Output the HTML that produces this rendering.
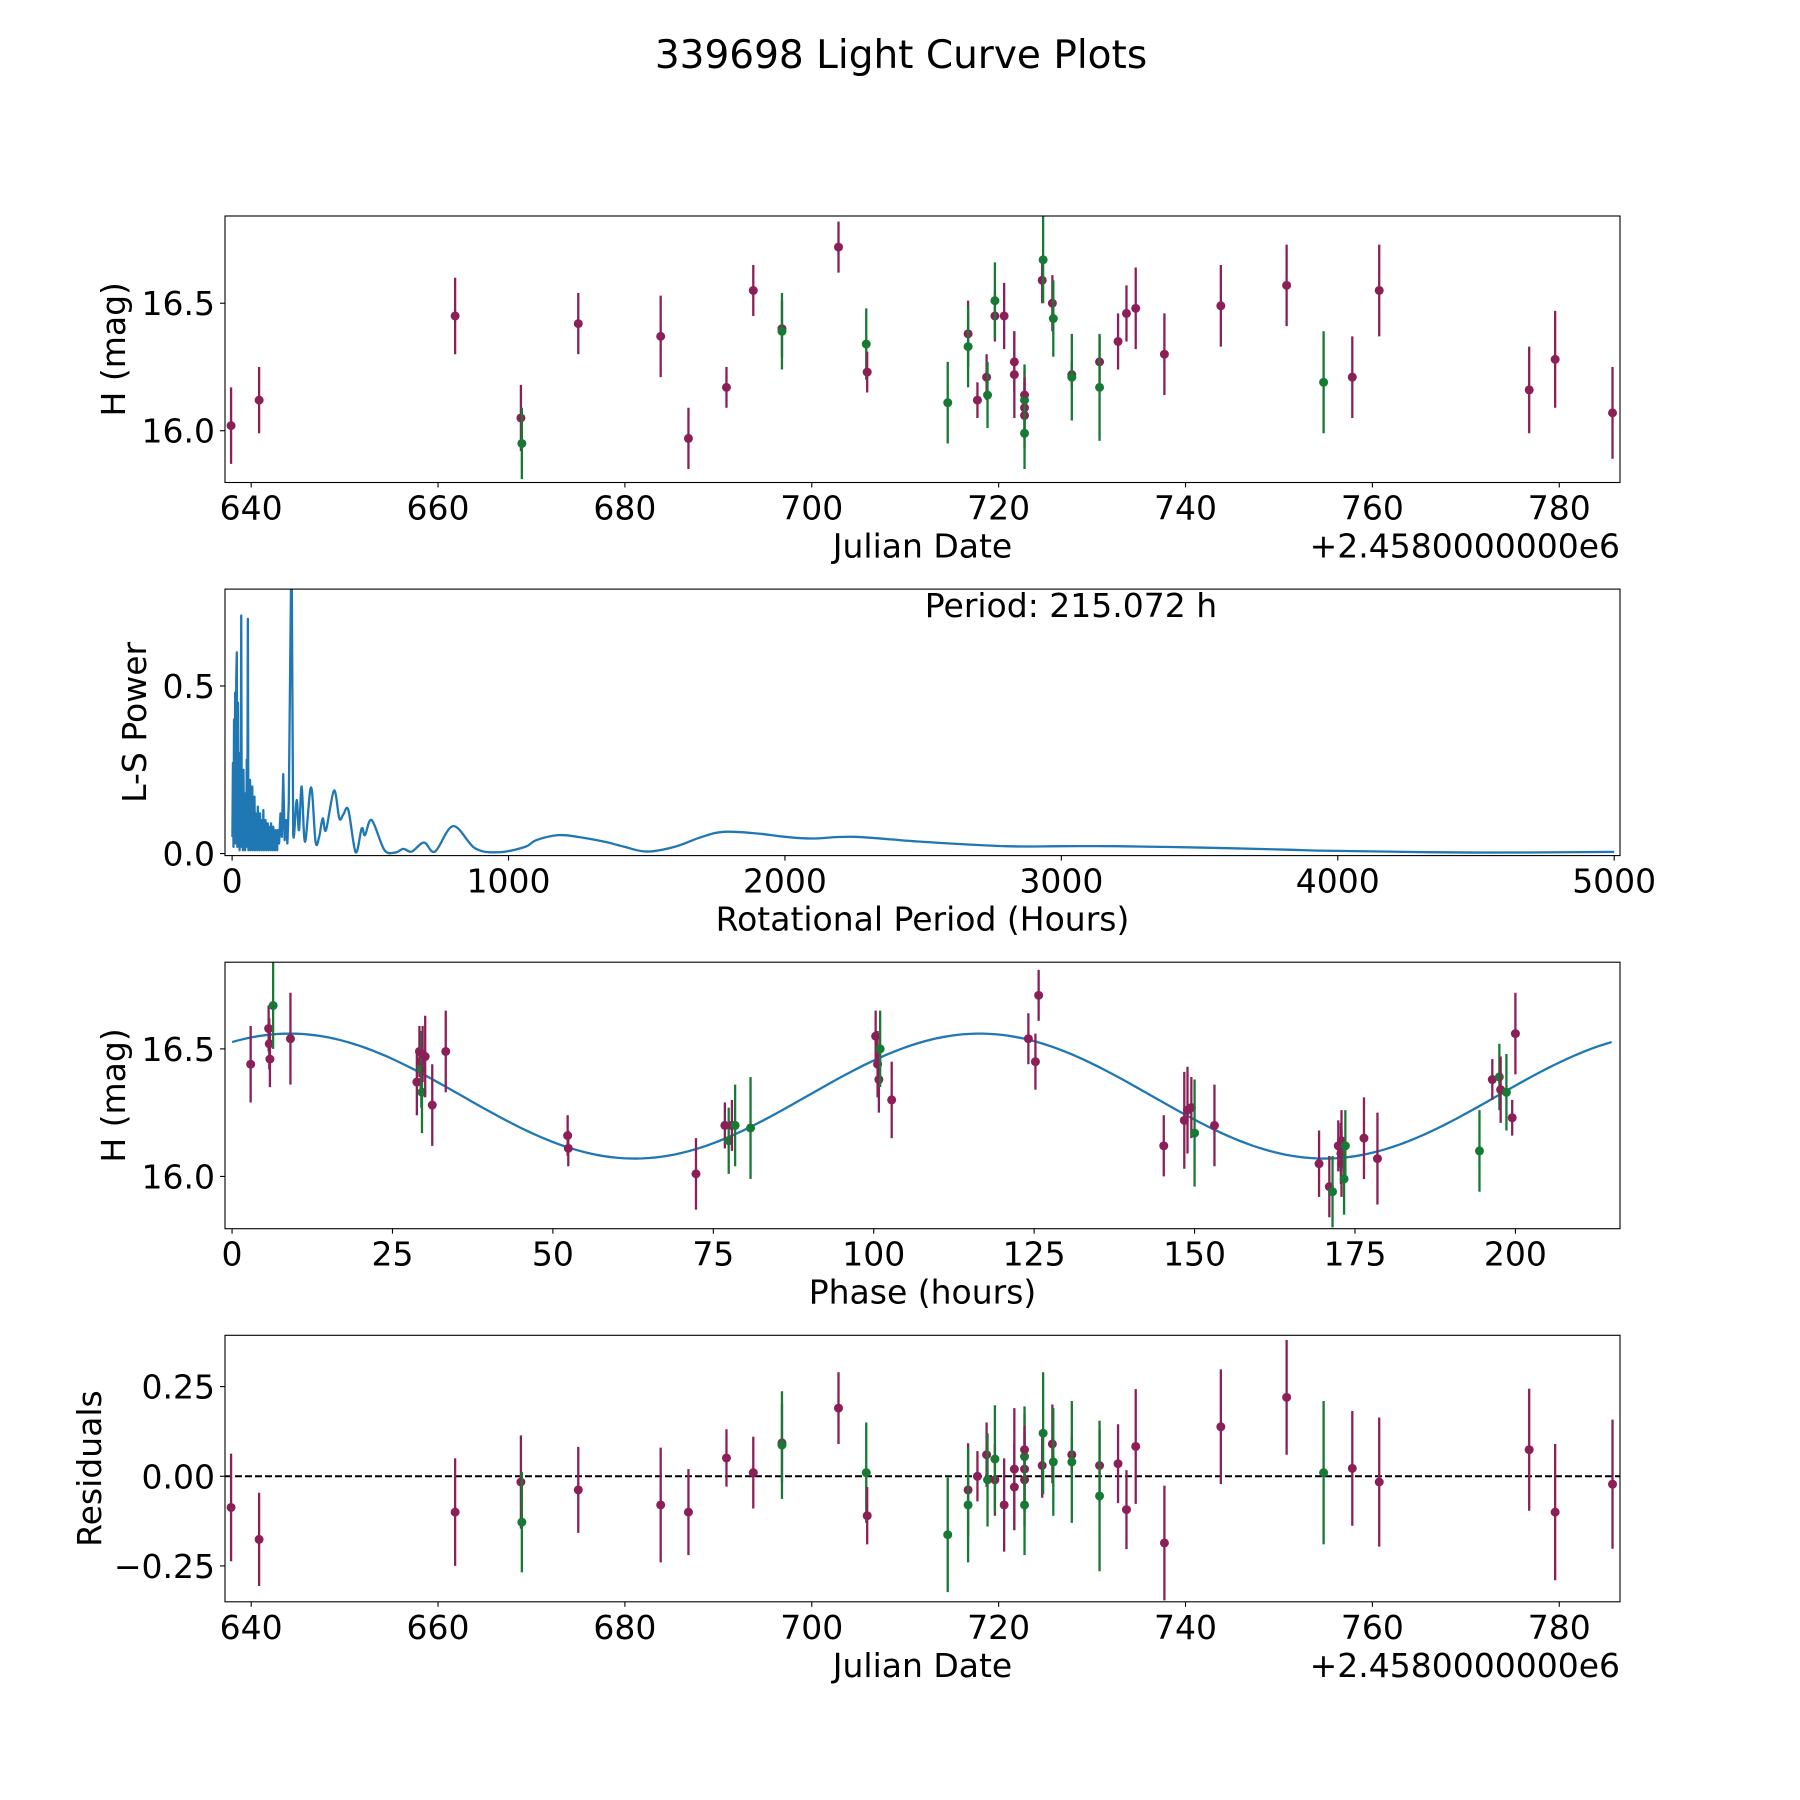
<!DOCTYPE html>
<html><head><meta charset="utf-8"><title>339698 Light Curve Plots</title>
<style>
html,body{margin:0;padding:0;background:#fff;}
svg{display:block;font-family:"DejaVu Sans","Liberation Sans",sans-serif;}
</style></head>
<body>
<svg id="fig" width="1800" height="1800" viewBox="0 0 1800 1800" xmlns="http://www.w3.org/2000/svg">
<rect width="1800" height="1800" fill="#fff"/>
<text x="901" y="68" font-size="39" text-anchor="middle">339698 Light Curve Plots</text>
</svg>
<script>
// ---- Panel 1 & 4 data: Julian date (offset), magnitude, error, filter colour ----
const obsDate = [637.85,640.85,661.83,668.87,668.97,675.01,683.83,686.80,690.87,693.74,696.81,696.81,702.86,705.83,705.93,714.55,716.73,716.73,717.73,718.71,718.81,719.60,719.60,720.59,721.68,721.68,722.77,722.77,722.77,722.77,722.77,724.66,724.76,725.75,725.85,727.83,727.83,730.80,730.80,732.78,733.68,734.67,737.74,743.78,750.82,754.78,757.85,760.73,776.78,779.56,785.70];
const obsMag = [16.02,16.12,16.45,16.05,15.95,16.42,16.37,15.97,16.17,16.55,16.40,16.39,16.72,16.34,16.23,16.11,16.38,16.33,16.12,16.21,16.14,16.45,16.51,16.45,16.27,16.22,16.14,16.12,16.09,16.06,15.99,16.59,16.67,16.50,16.44,16.22,16.21,16.27,16.17,16.35,16.46,16.48,16.30,16.49,16.57,16.19,16.21,16.55,16.16,16.28,16.07];
const obsErr = [0.15,0.13,0.15,0.13,0.14,0.12,0.16,0.12,0.08,0.10,0.11,0.15,0.10,0.14,0.08,0.16,0.13,0.16,0.07,0.09,0.13,0.10,0.15,0.13,0.12,0.17,0.10,0.14,0.12,0.13,0.14,0.09,0.17,0.11,0.15,0.05,0.17,0.10,0.21,0.11,0.11,0.16,0.16,0.16,0.16,0.20,0.16,0.18,0.17,0.19,0.18];
const obsFilter = ["p","p","p","p","g","p","p","p","p","p","p","g","p","g","p","g","p","g","p","p","g","p","g","p","p","p","p","g","p","p","g","p","g","p","g","p","g","p","g","p","p","p","p","p","p","g","p","p","p","p","p"];
const obsResid = [-0.087,-0.176,-0.10,-0.016,-0.128,-0.038,-0.08,-0.10,0.051,0.01,0.093,0.087,0.19,0.01,-0.11,-0.163,-0.038,-0.08,0.0,0.06,-0.01,-0.01,0.048,-0.08,-0.03,0.02,0.074,0.055,0.02,-0.01,-0.08,0.03,0.12,0.09,0.04,0.06,0.04,0.03,-0.055,0.035,-0.093,0.083,-0.186,0.138,0.22,0.01,0.022,-0.016,0.074,-0.10,-0.022];
// ---- Panel 2: Lomb-Scargle periodogram ----
const lsPeriod = [1,3,5,7,9,11,13,15,17,19,21,23,25,27,29,31,33,35,37,39,41,43,45,47,49,51,53,55,57,59,61,63,65,67,69,71,73,75,77,79,81,83,85,87,89,91,93,95,97,99,101,103,105,107,109,111,113,115,117,119,121,123,125,127,129,131,133,135,137,139,141,143,145,147,149,151,153,155,157,159,161,163,165,170,175,180,185,190,195,200,205,210,215,218,221,233.6,242,251.7,263.7,285.5,302,315,327.7,339.7,368.7,388,402.5,420.5,447,468.8,480.8,505,550.8,590,619.5,649.7,694.3,734,800,878.8,963,1060,1100,1180,1250,1350,1420,1500,1600,1700,1780,1900,2000,2100,2250,2500,2800,3000,3200,3500,3800,4000,4500,5000];
const lsPower = [0.05,0.27,0.02,0.40,0.05,0.48,0.03,0.52,0.60,0.02,0.45,0.08,0.30,0.01,0.22,0.05,0.71,0.02,0.15,0.01,0.25,0.03,0.18,0.01,0.12,0.02,0.28,0.05,0.70,0.01,0.16,0.02,0.22,0.01,0.13,0.03,0.20,0.01,0.10,0.04,0.17,0.01,0.12,0.02,0.11,0.01,0.14,0.03,0.08,0.01,0.12,0.02,0.09,0.01,0.10,0.02,0.13,0.01,0.08,0.03,0.10,0.01,0.06,0.02,0.09,0.01,0.08,0.02,0.07,0.01,0.09,0.03,0.06,0.01,0.08,0.02,0.05,0.01,0.07,0.02,0.05,0.01,0.07,0.03,0.12,0.05,0.237,0.04,0.10,0.03,0.15,0.55,0.95,0.5,0.06,0.16,0.07,0.20,0.035,0.198,0.035,0.05,0.105,0.07,0.188,0.105,0.117,0.13,0.004,0.075,0.055,0.10,0.011,0.003,0.014,0.006,0.033,0.006,0.082,0.016,0.004,0.02,0.04,0.055,0.05,0.035,0.02,0.006,0.02,0.05,0.065,0.06,0.05,0.045,0.05,0.035,0.022,0.022,0.022,0.018,0.012,0.008,0.003,0.005];
const periodLabel = "Period: 215.072 h";
// ---- Panel 3: phased data ----
const phaseHours = [2.9,5.7,5.9,5.8,6.4,9.1,28.8,29.2,29.4,29.5,29.6,29.7,30.1,31.2,33.3,52.3,52.4,72.3,76.8,77.4,77.9,78.4,80.8,100.3,100.6,100.8,101.0,102.8,124.1,125.2,125.7,145.2,148.4,148.9,149.5,150.0,153.1,169.4,171.0,171.5,172.4,172.8,172.9,172.9,173.3,173.5,176.4,178.5,194.4,196.4,197.5,197.7,198.6,199.5,200.0];
const phaseMag = [16.44,16.58,16.46,16.52,16.67,16.54,16.37,16.49,16.45,16.42,16.33,16.48,16.47,16.28,16.49,16.16,16.11,16.01,16.20,16.14,16.20,16.20,16.19,16.55,16.44,16.38,16.50,16.30,16.54,16.45,16.71,16.12,16.22,16.26,16.27,16.17,16.20,16.05,15.96,15.94,16.12,16.09,16.14,16.05,15.99,16.12,16.15,16.07,16.10,16.38,16.39,16.34,16.33,16.23,16.56];
const phaseErr = [0.15,0.09,0.11,0.10,0.17,0.18,0.13,0.10,0.11,0.15,0.16,0.11,0.16,0.16,0.16,0.08,0.07,0.14,0.09,0.13,0.10,0.16,0.20,0.10,0.13,0.13,0.15,0.15,0.10,0.11,0.10,0.12,0.19,0.17,0.12,0.21,0.16,0.13,0.12,0.14,0.10,0.12,0.12,0.13,0.14,0.14,0.16,0.18,0.16,0.08,0.13,0.13,0.15,0.07,0.16];
const phaseFilter = ["p","p","p","p","g","p","p","p","p","g","g","p","p","p","p","p","p","p","p","g","p","g","g","p","p","p","g","p","p","p","p","p","p","p","p","g","p","p","p","g","p","p","p","p","g","g","p","p","g","p","g","p","g","p","p"];
const modelMean = [16.315], modelAmp = [0.245], modelPeakPhase = [9], modelHalfPeriod = [107.5];
const xTicks1 = [640,660,680,700,720,740,760,780];
const yTicks1 = [16.0,16.5];
const xTicks2 = [0,1000,2000,3000,4000,5000];
const yTicks2 = [0.0,0.5];
const xTicks3 = [0,25,50,75,100,125,150,175,200];
const yTicks4 = [0.25,0.0,-0.25];

const NS="http://www.w3.org/2000/svg";
const svg=document.getElementById('fig');
const COL={p:"#8c1f57",g:"#167a35"};
function mk(tag,attrs,parent){const e=document.createElementNS(NS,tag);for(const k in attrs)e.setAttribute(k,attrs[k]);(parent||svg).appendChild(e);return e;}
const L=225,R=1620,H=266.5;
const tops=[216,589.1,962.2,1335.3];
function scale(d0,d1,r0,r1){return v=>r0+(v-d0)/(d1-d0)*(r1-r0);}
function fmt(v,dec){let s=v.toFixed(dec);if(v<0)s="\u2212"+s.slice(1);return s;}

function axes(i,name,xd,yd,xt,yt,xdec,ydec,xlabel,ylabel,ylabelX,offset){
  const t=tops[i],b=t+H;
  const g=mk('g',{});
  
  
  const sx=scale(xd[0],xd[1],L,R), sy=scale(yd[0],yd[1],b,t);
  const clipId='clip'+i;
  const cp=mk('clipPath',{id:clipId},g);mk('rect',{x:L,y:t,width:R-L,height:H},cp);
  const plot=mk('g',{'clip-path':'url(#'+clipId+')'},g);
  
  
  xt.forEach(v=>{const x=sx(v);
    const tk=mk('line',{x1:x,x2:x,y1:b,y2:b+5,stroke:'#000','stroke-width':1.1},g);
    
    
    const tl=mk('text',{x:x,y:b+37,'font-size':33,'text-anchor':'middle'},g);tl.textContent=fmt(v,xdec);
    
    });
  yt.forEach(v=>{const y=sy(v);
    const tk=mk('line',{x1:L-5,x2:L,y1:y,y2:y,stroke:'#000','stroke-width':1.1},g);
    
    
    const tl=mk('text',{x:L-10,y:y+12,'font-size':33,'text-anchor':'end'},g);tl.textContent=fmt(v,ydec);
    
    });
  const xl=mk('text',{x:(L+R)/2,y:b+75,'font-size':33,'text-anchor':'middle'},g);xl.textContent=xlabel;
  
  
  const yl=mk('text',{x:ylabelX,y:t+H/2,'font-size':33,'text-anchor':'middle',transform:'rotate(-90 '+ylabelX+' '+(t+H/2)+')'},g);yl.textContent=ylabel;
  
  
  if(offset){const o=mk('text',{x:R,y:b+75,'font-size':33,'text-anchor':'end'},g);o.textContent=offset;
    
    }
  return {g,plot,sx,sy,t,b};
}
function finish(a){const f=mk('rect',{x:L,y:a.t,width:R-L,height:H,fill:'none',stroke:'#000','stroke-width':1.1},a.g);
  
  }
function errPts(a,xs,ys,es,cs){
  xs.forEach((xv,k)=>{const x=a.sx(xv);
    const ln=mk('line',{x1:x,x2:x,y1:a.sy(ys[k]-es[k]),y2:a.sy(ys[k]+es[k]),stroke:COL[cs[k]],'stroke-width':2.3},a.plot);
    
    
    const c=mk('circle',{cx:x,cy:a.sy(ys[k]),r:4.5,fill:COL[cs[k]]},a.plot);
    
    });
}
const OFF="+2.4580000000e6";
// Panel 1
const a1=axes(0,'light-curve-panel',[637.2,786.5],[15.797,16.842],xTicks1,yTicks1,0,1,'Julian Date','H (mag)',125,OFF);
errPts(a1,obsDate,obsMag,obsErr,obsFilter);finish(a1);
// Panel 2
const a2=axes(1,'periodogram-panel',[-25.7,5021],[-0.006,0.789],xTicks2,yTicks2,0,1,'Rotational Period (Hours)','L-S Power',146,null);
const px=lsPeriod.map(p=>a2.sx(p)), py=lsPower.map(v=>a2.sy(v));
let d='M'+px[0].toFixed(2)+' '+py[0].toFixed(2);
for(let k=1;k<px.length;k++){
  if(lsPeriod[k]<=221){d+='L'+px[k].toFixed(2)+' '+py[k].toFixed(2);continue;}
  const k0=Math.max(k-2,0),k3=Math.min(k+1,px.length-1);
  const c1x=px[k-1]+(px[k]-px[k0])/6,c1y=py[k-1]+(py[k]-py[k0])/6;
  const c2x=px[k]-(px[k3]-px[k-1])/6,c2y=py[k]-(py[k3]-py[k-1])/6;
  d+='C'+c1x.toFixed(2)+' '+c1y.toFixed(2)+' '+c2x.toFixed(2)+' '+c2y.toFixed(2)+' '+px[k].toFixed(2)+' '+py[k].toFixed(2);
}
const ls=mk('path',{d:d,fill:'none',stroke:'#1f77b4','stroke-width':2.3,'stroke-linejoin':'round'},a2.plot);


const pt=mk('text',{x:1071,y:617,'font-size':33,'text-anchor':'middle'},a2.g);pt.textContent=periodLabel;


finish(a2);
// Panel 3
const a3=axes(2,'phased-panel',[-1.1,216.3],[15.795,16.84],xTicks3,yTicks1,0,1,'Phase (hours)','H (mag)',125,null);
let md='';for(let ph=0;ph<=215.072;ph+=1){const m=modelMean[0]+modelAmp[0]*Math.cos(2*Math.PI*(ph-modelPeakPhase[0])/modelHalfPeriod[0]);md+=(ph?'L':'M')+a3.sx(ph).toFixed(2)+' '+a3.sy(m).toFixed(2);}
const mc=mk('path',{d:md,fill:'none',stroke:'#1f77b4','stroke-width':2.3},a3.plot);


errPts(a3,phaseHours,phaseMag,phaseErr,phaseFilter);finish(a3);
// Panel 4
const a4=axes(3,'residuals-panel',[637.2,786.5],[-0.350,0.393],xTicks1,yTicks4,0,2,'Julian Date','Residuals',101,OFF);
const zl=mk('line',{x1:L,x2:R,y1:a4.sy(0),y2:a4.sy(0),stroke:'#000','stroke-width':2,'stroke-dasharray':'7,3'},a4.plot);


errPts(a4,obsDate,obsResid,obsErr,obsFilter);finish(a4);
</script>
</body></html>
